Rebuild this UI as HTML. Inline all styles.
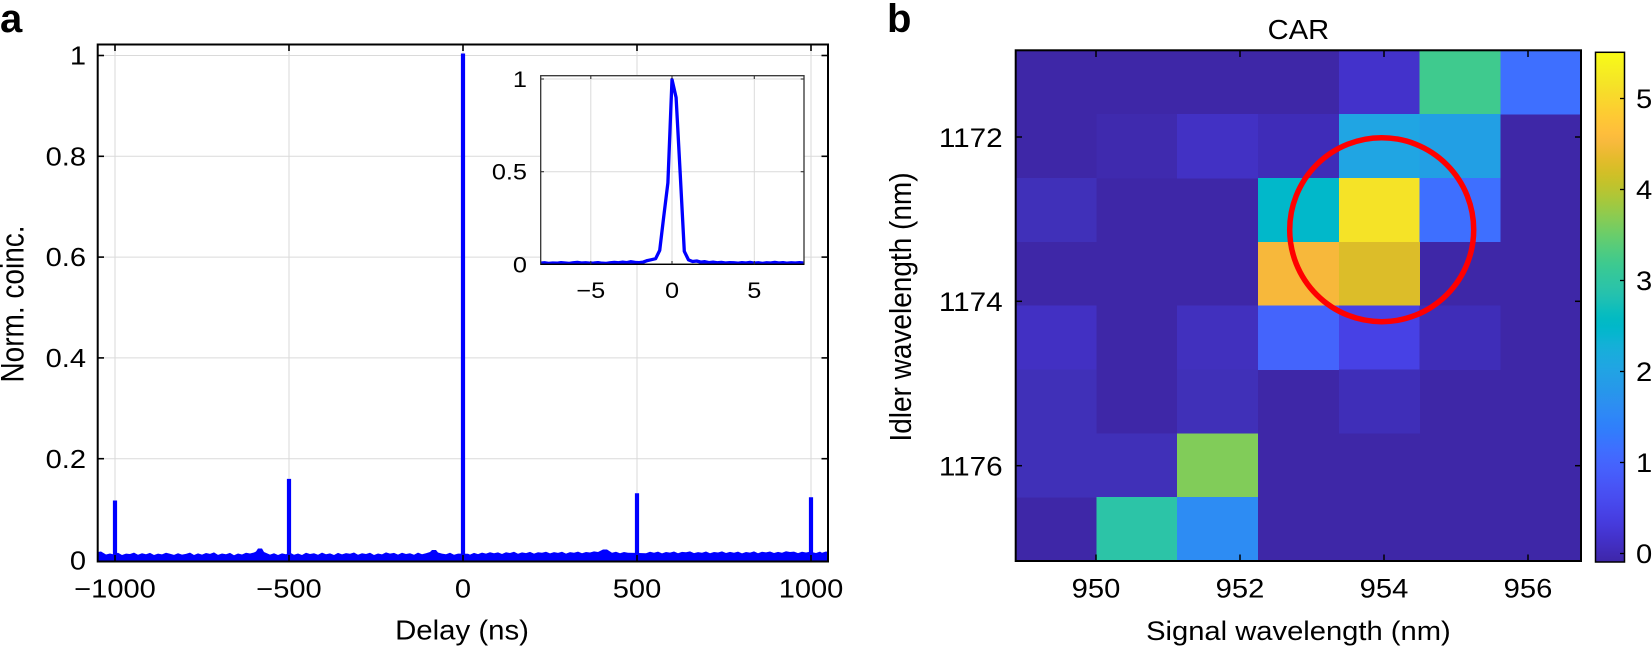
<!DOCTYPE html>
<html><head><meta charset="utf-8"><style>
body{margin:0;background:#fff}
svg{display:block}
text{font-family:"Liberation Sans",Arial,Helvetica,sans-serif;fill:#000}
</style></head><body>
<svg width="1652" height="649" viewBox="0 0 1652 649" xmlns="http://www.w3.org/2000/svg">
<defs>
<linearGradient id="parula" x1="0" y1="1" x2="0" y2="0">
<stop offset="0.000" stop-color="#3e26a8"/><stop offset="0.016" stop-color="#402ab4"/><stop offset="0.032" stop-color="#422ec0"/><stop offset="0.048" stop-color="#4332cb"/>
<stop offset="0.063" stop-color="#4537d5"/><stop offset="0.079" stop-color="#463cde"/><stop offset="0.095" stop-color="#4741e5"/><stop offset="0.111" stop-color="#4747eb"/>
<stop offset="0.127" stop-color="#484df0"/><stop offset="0.143" stop-color="#4852f4"/><stop offset="0.159" stop-color="#4758f8"/><stop offset="0.175" stop-color="#465efb"/>
<stop offset="0.190" stop-color="#4563fd"/><stop offset="0.206" stop-color="#4269fe"/><stop offset="0.222" stop-color="#3e6fff"/><stop offset="0.238" stop-color="#3875fe"/>
<stop offset="0.254" stop-color="#327cfc"/><stop offset="0.270" stop-color="#2f81fa"/><stop offset="0.286" stop-color="#2e87f7"/><stop offset="0.302" stop-color="#2d8cf3"/>
<stop offset="0.317" stop-color="#2b91ef"/><stop offset="0.333" stop-color="#2796eb"/><stop offset="0.349" stop-color="#259be8"/><stop offset="0.365" stop-color="#23a0e5"/>
<stop offset="0.381" stop-color="#20a5e3"/><stop offset="0.397" stop-color="#1ca9df"/><stop offset="0.413" stop-color="#18addb"/><stop offset="0.429" stop-color="#12b1d6"/>
<stop offset="0.444" stop-color="#08b5d0"/><stop offset="0.460" stop-color="#01b8ca"/><stop offset="0.476" stop-color="#02bac3"/><stop offset="0.492" stop-color="#0bbdbd"/>
<stop offset="0.508" stop-color="#19bfb6"/><stop offset="0.524" stop-color="#24c1ae"/><stop offset="0.540" stop-color="#2cc4a7"/><stop offset="0.556" stop-color="#31c69f"/>
<stop offset="0.571" stop-color="#37c897"/><stop offset="0.587" stop-color="#3fca8e"/><stop offset="0.603" stop-color="#4acb84"/><stop offset="0.619" stop-color="#57cc7a"/>
<stop offset="0.635" stop-color="#64cd6f"/><stop offset="0.651" stop-color="#72cd64"/><stop offset="0.667" stop-color="#81cc59"/><stop offset="0.683" stop-color="#8fcb4e"/>
<stop offset="0.698" stop-color="#9dc943"/><stop offset="0.714" stop-color="#abc739"/><stop offset="0.730" stop-color="#b9c431"/><stop offset="0.746" stop-color="#c5c22a"/>
<stop offset="0.762" stop-color="#d1bf27"/><stop offset="0.778" stop-color="#dcbd29"/><stop offset="0.794" stop-color="#e6bb2d"/><stop offset="0.810" stop-color="#f0ba36"/>
<stop offset="0.825" stop-color="#f8ba3d"/><stop offset="0.841" stop-color="#febe3c"/><stop offset="0.857" stop-color="#fec338"/><stop offset="0.873" stop-color="#fec934"/>
<stop offset="0.889" stop-color="#fccf30"/><stop offset="0.905" stop-color="#fad62d"/><stop offset="0.921" stop-color="#f7dc2a"/><stop offset="0.937" stop-color="#f5e327"/>
<stop offset="0.952" stop-color="#f5e924"/><stop offset="0.968" stop-color="#f6ef20"/><stop offset="0.984" stop-color="#f7f51b"/><stop offset="1.000" stop-color="#f9fb15"/>
</linearGradient>
</defs>

<!-- ================= PANEL A ================= -->
<text x="0" y="32" font-size="40" font-weight="bold">a</text>

<!-- grid -->
<g stroke="#dadada" stroke-width="1">
<line x1="115" y1="44.5" x2="115" y2="561"/>
<line x1="289" y1="44.5" x2="289" y2="561"/>
<line x1="463" y1="44.5" x2="463" y2="561"/>
<line x1="637" y1="44.5" x2="637" y2="561"/>
<line x1="811" y1="44.5" x2="811" y2="561"/>
<line x1="97.7" y1="55.5" x2="828" y2="55.5"/>
<line x1="97.7" y1="156.3" x2="828" y2="156.3"/>
<line x1="97.7" y1="257.1" x2="828" y2="257.1"/>
<line x1="97.7" y1="357.9" x2="828" y2="357.9"/>
<line x1="97.7" y1="458.7" x2="828" y2="458.7"/>
</g>

<!-- data -->
<polygon fill="#0000ff" points="97.7,552 101,551.5 106,554.5 110,553.5 114,554.5 118,552.8 122,555 126,553.6 130,554 134,552.6 138,554.8 142,553.2 146,554.2 150,552.9 154,555 158,553.6 162,554.4 166,552.7 170,553.8 174,554.9 178,553.2 182,554.6 186,553.9 190,552.6 194,555 198,553.4 202,554.6 206,553 210,553.9 214,552.4 218,554.9 222,553.5 226,554.2 230,552.9 234,555.2 238,553.5 242,554.5 246,552.8 250,553.5 254,552.5 256,551.5 258,548.5 262,548.5 264,552 268,553.8 270,554.6 274,553.2 278,555 282,553.4 286,554.2 290,552.6 294,554.7 298,553.5 302,555 306,552.8 310,554 314,553.2 318,554.8 322,552.6 326,554.2 330,553.4 334,555 338,552.9 342,554.4 346,553.1 350,553.7 354,552.5 358,554.7 362,553.3 366,554 370,552.7 374,555 378,553.5 382,554.4 386,552.4 390,553.6 394,552.9 398,554.6 402,552.8 406,554 410,553.3 414,554.8 418,552.6 422,554.2 426,553.2 430,552 432,550 436,550 438,552.5 442,553.6 446,554.3 450,552.8 454,554.8 458,553.6 468,553.8 470,554.6 474,552.9 478,554.1 482,552.6 486,553.6 490,552.2 494,553.2 498,552.4 502,554 506,552.3 510,553 514,551.8 518,553.7 522,552.4 526,553.1 530,551.9 534,553.6 538,552.2 542,552.8 546,551.7 550,553.4 554,552.1 558,552.9 562,551.8 566,553.6 570,552.1 574,552.7 578,551.6 582,553.3 586,552 590,552.5 594,551.4 598,552 603,549.5 607,549.5 612,552.8 616,551.7 620,553.2 624,552 628,552.7 646,553.2 650,551.8 654,552.8 658,551.6 662,553.4 666,552 670,552.6 674,551.5 678,553.2 682,551.9 686,552.3 690,551.4 694,553.1 698,552.1 702,552.7 706,551.5 710,553.3 714,552 718,552.5 722,551.4 726,553 730,551.9 734,552.8 738,551.6 742,553.4 746,552 750,552.6 754,551.4 758,553.2 762,551.8 766,552.4 770,551.5 774,553 778,551.9 782,552.7 786,551.3 790,552 794,551.6 798,553.1 802,551.8 806,552.5 810,551.7 816,553 820,551.6 822,552.8 826,551.5 828,552 828,561 97.7,561"/>
<g stroke="#0000ff" stroke-width="4.2" stroke-linecap="butt">
<line x1="115" y1="557" x2="115" y2="500.5"/>
<line x1="289" y1="557" x2="289" y2="478.9"/>
<line x1="463" y1="557" x2="463" y2="53.5"/>
<line x1="637" y1="557" x2="637" y2="493.3"/>
<line x1="811" y1="557" x2="811" y2="497.3"/>
</g>

<!-- axes box & ticks -->
<rect x="97.7" y="44.5" width="730.3" height="517" fill="none" stroke="#000" stroke-width="2"/>
<g stroke="#000" stroke-width="1.6">
<line x1="115" y1="561.5" x2="115" y2="555"/><line x1="289" y1="561.5" x2="289" y2="555"/><line x1="463" y1="561.5" x2="463" y2="555"/><line x1="637" y1="561.5" x2="637" y2="555"/><line x1="811" y1="561.5" x2="811" y2="555"/>
<line x1="115" y1="44.5" x2="115" y2="51"/><line x1="289" y1="44.5" x2="289" y2="51"/><line x1="463" y1="44.5" x2="463" y2="51"/><line x1="637" y1="44.5" x2="637" y2="51"/><line x1="811" y1="44.5" x2="811" y2="51"/>
<line x1="97.7" y1="55.5" x2="104" y2="55.5"/><line x1="97.7" y1="156.3" x2="104" y2="156.3"/><line x1="97.7" y1="257.1" x2="104" y2="257.1"/><line x1="97.7" y1="357.9" x2="104" y2="357.9"/><line x1="97.7" y1="458.7" x2="104" y2="458.7"/>
<line x1="828" y1="55.5" x2="821.5" y2="55.5"/><line x1="828" y1="156.3" x2="821.5" y2="156.3"/><line x1="828" y1="257.1" x2="821.5" y2="257.1"/><line x1="828" y1="357.9" x2="821.5" y2="357.9"/><line x1="828" y1="458.7" x2="821.5" y2="458.7"/>
</g>

<!-- tick labels -->
<g font-size="25.5" text-anchor="end">
<text transform="translate(86,64.6) scale(1.14,1)">1</text>
<text transform="translate(86,165.4) scale(1.14,1)">0.8</text>
<text transform="translate(86,266.2) scale(1.14,1)">0.6</text>
<text transform="translate(86,367) scale(1.14,1)">0.4</text>
<text transform="translate(86,467.8) scale(1.14,1)">0.2</text>
<text transform="translate(86,569.5) scale(1.14,1)">0</text>
</g>
<g font-size="25.5" text-anchor="middle">
<text transform="translate(115,597.5) scale(1.14,1)">−1000</text>
<text transform="translate(289,597.5) scale(1.14,1)">−500</text>
<text transform="translate(463,597.5) scale(1.14,1)">0</text>
<text transform="translate(637,597.5) scale(1.14,1)">500</text>
<text transform="translate(811,597.5) scale(1.14,1)">1000</text>
</g>
<text transform="translate(462,639.5) scale(1.05,1)" font-size="28" text-anchor="middle">Delay (ns)</text>
<text transform="translate(23.3,304) rotate(-90) scale(1,1.16)" font-size="28" text-anchor="middle">Norm. coinc.</text>

<!-- inset -->
<rect x="540.7" y="75.7" width="263.3" height="188.6" fill="#fff"/>
<g stroke="#dadada" stroke-width="1">
<line x1="590.8" y1="75.7" x2="590.8" y2="264.3"/>
<line x1="672" y1="75.7" x2="672" y2="264.3"/>
<line x1="754.3" y1="75.7" x2="754.3" y2="264.3"/>
<line x1="540.7" y1="171.7" x2="804" y2="171.7"/>
<line x1="540.7" y1="79" x2="804" y2="79"/>
</g>
<polyline fill="none" stroke="#0000ff" stroke-width="3.3" stroke-linejoin="round" points="540.4,263.2 544.5,262.8 548.6,263.4 552.7,263.0 556.9,263.2 561.0,262.6 565.1,263.0 569.2,263.4 573.3,262.8 577.4,262.4 581.5,263.0 585.6,262.8 589.8,263.2 593.9,263.0 598.0,262.6 602.1,263.2 606.2,263.4 610.3,262.8 614.4,262.4 618.5,262.8 622.7,262.1 626.8,262.6 630.9,261.7 635.0,262.4 639.1,262.6 643.2,262.1 647.3,260.6 651.4,259.7 655.6,258.7 659.7,250.4 663.8,216.1 667.9,182.8 672.0,79.5 676.1,97.5 680.2,173.5 684.3,251.3 688.5,259.9 692.6,261.5 696.7,261.0 700.8,262.1 704.9,261.7 709.0,262.6 713.1,262.1 717.2,262.8 721.4,262.4 725.5,263.0 729.6,262.6 733.7,262.8 737.8,263.2 741.9,262.6 746.0,263.0 750.1,262.4 754.3,263.2 758.4,262.8 762.5,263.4 766.6,262.8 770.7,263.0 774.8,262.4 778.9,263.0 783.0,262.6 787.2,263.2 791.3,262.8 795.4,263.0 799.5,262.6 803.6,263.0"/>
<rect x="540.7" y="75.7" width="263.3" height="188.6" fill="none" stroke="#333" stroke-width="1.3"/>
<line x1="540.7" y1="264.3" x2="804" y2="264.3" stroke="#000" stroke-width="1.3"/>
<g stroke="#333" stroke-width="1.1">
<line x1="590.8" y1="75.7" x2="590.8" y2="79"/><line x1="672" y1="75.7" x2="672" y2="79"/><line x1="754.3" y1="75.7" x2="754.3" y2="79"/>
<line x1="590.8" y1="264.3" x2="590.8" y2="261"/><line x1="672" y1="264.3" x2="672" y2="261"/><line x1="754.3" y1="264.3" x2="754.3" y2="261"/>
<line x1="540.7" y1="79" x2="544" y2="79"/><line x1="540.7" y1="171.7" x2="544" y2="171.7"/>
<line x1="804" y1="79" x2="800.7" y2="79"/><line x1="804" y1="171.7" x2="800.7" y2="171.7"/>
</g>
<g font-size="22" text-anchor="end">
<text transform="translate(527,87) scale(1.15,1)">1</text>
<text transform="translate(527,179.7) scale(1.15,1)">0.5</text>
<text transform="translate(527,272.5) scale(1.15,1)">0</text>
</g>
<g font-size="22" text-anchor="middle">
<text transform="translate(590.8,298) scale(1.15,1)">−5</text>
<text transform="translate(672,298) scale(1.15,1)">0</text>
<text transform="translate(754.3,298) scale(1.15,1)">5</text>
</g>

<!-- ================= PANEL B ================= -->
<text x="887" y="32" font-size="40" font-weight="bold">b</text>
<text transform="translate(1298.4,39) scale(1.04,1)" font-size="28" text-anchor="middle">CAR</text>

<!-- heatmap -->
<rect x="1015.7" y="50.3" width="565.3" height="510.7" fill="#3e27a7"/>
<g shape-rendering="crispEdges">
<rect x="1338.8" y="50.3" width="81" height="64.2" fill="#4332cb"/>
<rect x="1419.5" y="50.3" width="81" height="64.2" fill="#3fca8e"/>
<rect x="1500.3" y="50.3" width="80.7" height="64.2" fill="#3e6fff"/>
<rect x="1096.5" y="114.1" width="81" height="64.2" fill="#3f2aae"/>
<rect x="1177.2" y="114.1" width="81" height="64.2" fill="#4231c4"/>
<rect x="1258" y="114.1" width="81" height="64.2" fill="#3f2cb8"/>
<rect x="1338.8" y="114.1" width="81" height="64.2" fill="#20a5e3"/>
<rect x="1419.5" y="114.1" width="81" height="64.2" fill="#229fe4"/>
<rect x="1015.7" y="178" width="81" height="64.2" fill="#4030b9"/>
<rect x="1258" y="178" width="81" height="64.2" fill="#01b8ca"/>
<rect x="1338.8" y="178" width="81" height="64.2" fill="#f5e327"/>
<rect x="1419.5" y="178" width="81" height="64.2" fill="#3e6fff"/>
<rect x="1258" y="241.8" width="81" height="64.2" fill="#f7b83b"/>
<rect x="1338.8" y="241.8" width="81" height="64.2" fill="#dcbd29"/>
<rect x="1015.7" y="305.7" width="81" height="64.2" fill="#4230c3"/>
<rect x="1177.2" y="305.7" width="81" height="64.2" fill="#4130be"/>
<rect x="1258" y="305.7" width="81" height="64.2" fill="#4464fc"/>
<rect x="1338.8" y="305.7" width="81" height="64.2" fill="#4741e5"/>
<rect x="1419.5" y="305.7" width="81" height="64.2" fill="#3f2db8"/>
<rect x="1015.7" y="369.5" width="81" height="64.2" fill="#4030b8"/>
<rect x="1177.2" y="369.5" width="81" height="64.2" fill="#4030b8"/>
<rect x="1338.8" y="369.5" width="81" height="64.2" fill="#3f2eb8"/>
<rect x="1015.7" y="433.3" width="81" height="64.2" fill="#4030b8"/>
<rect x="1096.5" y="433.3" width="81" height="64.2" fill="#4030b8"/>
<rect x="1177.2" y="433.3" width="81" height="64.2" fill="#81cc59"/>
<rect x="1096.5" y="497.2" width="81" height="63.8" fill="#2cc4a7"/>
<rect x="1177.2" y="497.2" width="81" height="63.8" fill="#2d8cf3"/>
</g>

<circle cx="1381.7" cy="229.7" r="92" fill="none" stroke="#ff0000" stroke-width="5.5"/>

<rect x="1015.7" y="50.3" width="565.3" height="510.7" fill="none" stroke="#000" stroke-width="2"/>
<g stroke="#000" stroke-width="1.5">
<line x1="1096" y1="50.3" x2="1096" y2="57"/><line x1="1240" y1="50.3" x2="1240" y2="57"/><line x1="1384" y1="50.3" x2="1384" y2="57"/><line x1="1528" y1="50.3" x2="1528" y2="57"/>
<line x1="1096" y1="561" x2="1096" y2="554.5"/><line x1="1240" y1="561" x2="1240" y2="554.5"/><line x1="1384" y1="561" x2="1384" y2="554.5"/><line x1="1528" y1="561" x2="1528" y2="554.5"/>
<line x1="1015.7" y1="137" x2="1022" y2="137"/><line x1="1015.7" y1="301.3" x2="1022" y2="301.3"/><line x1="1015.7" y1="465.7" x2="1022" y2="465.7"/>
<line x1="1581" y1="137" x2="1575" y2="137"/><line x1="1581" y1="301.3" x2="1575" y2="301.3"/><line x1="1581" y1="465.7" x2="1575" y2="465.7"/>
</g>

<g font-size="27" text-anchor="end">
<text transform="translate(1002.7,146.8) scale(1.1,1)">1172</text>
<text transform="translate(1002.7,311.1) scale(1.1,1)">1174</text>
<text transform="translate(1002.7,475.5) scale(1.1,1)">1176</text>
</g>
<g font-size="27" text-anchor="middle">
<text transform="translate(1096,597.7) scale(1.08,1)">950</text>
<text transform="translate(1240,597.7) scale(1.08,1)">952</text>
<text transform="translate(1384,597.7) scale(1.08,1)">954</text>
<text transform="translate(1528,597.7) scale(1.08,1)">956</text>
</g>
<text transform="translate(1298.4,640) scale(1.08,1)" font-size="27" text-anchor="middle">Signal wavelength (nm)</text>
<text transform="translate(911,307) rotate(-90) scale(1,1.1)" font-size="28" text-anchor="middle">Idler wavelength (nm)</text>

<!-- colorbar -->
<rect x="1595.5" y="52.3" width="29" height="509.7" fill="url(#parula)"/>
<rect x="1595.5" y="52.3" width="29" height="509.7" fill="none" stroke="#000" stroke-width="1.5"/>
<g stroke="#000" stroke-width="1.3">
<line x1="1624.5" y1="553.5" x2="1620" y2="553.5"/><line x1="1624.5" y1="462.5" x2="1620" y2="462.5"/><line x1="1624.5" y1="371.5" x2="1620" y2="371.5"/><line x1="1624.5" y1="280.5" x2="1620" y2="280.5"/><line x1="1624.5" y1="189.5" x2="1620" y2="189.5"/><line x1="1624.5" y1="98.5" x2="1620" y2="98.5"/>
</g>
<g font-size="27">
<text transform="translate(1636,563.2) scale(1.08,1)">0</text>
<text transform="translate(1636,472.2) scale(1.08,1)">1</text>
<text transform="translate(1636,381.2) scale(1.08,1)">2</text>
<text transform="translate(1636,290.2) scale(1.08,1)">3</text>
<text transform="translate(1636,199.2) scale(1.08,1)">4</text>
<text transform="translate(1636,108.2) scale(1.08,1)">5</text>
</g>
</svg>
</body></html>
